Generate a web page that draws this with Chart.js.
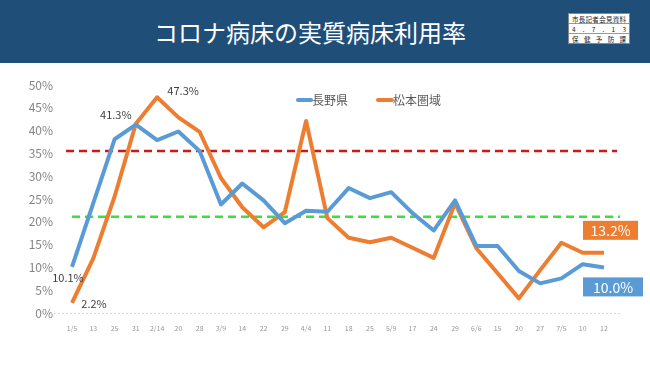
<!DOCTYPE html>
<html>
<head>
<meta charset="utf-8">
<script src="https://cdn.jsdelivr.net/npm/chart.js@4/dist/chart.umd.min.js"></script>
<style>
html,body{margin:0;padding:0;background:#fff;width:650px;height:365px;overflow:hidden;font-family:"Noto Sans CJK JP","Noto Sans",sans-serif;}
#header{position:absolute;left:0;top:0;width:650px;height:63px;background:#1F4E79;}
#title{position:absolute;left:0;top:0;width:620px;height:63px;line-height:63px;text-align:center;color:#fff;font-size:24px;}
#badge{position:absolute;left:568px;top:13px;width:62px;height:31px;background:#fff;border:1px solid #888;box-sizing:border-box;}
.row{height:10px;display:flex;justify-content:space-between;align-items:center;padding:0 3px;font-size:6.5px;line-height:10px;color:#222;border-bottom:1px solid #999;box-sizing:border-box;}
.row:last-child{border-bottom:none;}
#wrap{position:absolute;left:0;top:0;width:650px;height:365px;}
</style>
</head>
<body>
<div id="header"><div id="title">コロナ病床の実質病床利用率</div>
<div id="badge">
<div class="row"><span>市</span><span>長</span><span>記</span><span>者</span><span>会</span><span>見</span><span>資</span><span>料</span></div>
<div class="row"><span>4</span><span>.</span><span>7</span><span>.</span><span>1</span><span>3</span></div>
<div class="row"><span>保</span><span>健</span><span>予</span><span>防</span><span>課</span></div>
</div></div>
<div id="wrap"><canvas id="c" width="650" height="365"></canvas></div>
<script>
const categories = ["1/5","13","25","31","2/14","20","28","3/9","14","22","29","4/4","11","18","25","5/9","17","24","29","6/6","15","20","27","7/5","10","12"];
const naganoLabel = "長野県";
const matsumotoLabel = "松本圏域";
const nagano = [10.1,24.1,38.1,41.3,37.9,39.8,35.5,23.8,28.4,24.7,19.7,22.4,22.2,27.4,25.2,26.5,21.9,18.1,24.7,14.7,14.7,9.2,6.5,7.6,10.7,10.0];
const matsumoto = [2.2,12.0,25.5,41.5,47.3,42.9,39.7,29.6,23.2,18.8,22.1,42.1,20.8,16.5,15.5,16.5,14.3,12.1,24.1,14.2,8.7,3.2,9.4,15.4,13.2,13.2];
const redLine = 35.5;
const greenLine = 21.1;
const yTicks = [0,5,10,15,20,25,30,35,40,45,50];

const BLUE = "#5B9BD5", ORANGE = "#ED7D31";
const FONT = '"Noto Sans CJK JP","Noto Sans",sans-serif';

const overlay = {
  id: "overlay",
  beforeDatasetsDraw(chart) {
    const ctx = chart.ctx, y = chart.scales.y;
    const ca = chart.chartArea;
    ctx.save();
    ctx.strokeStyle = "#d9d9d9"; ctx.lineWidth = 1; ctx.setLineDash([2,2]);
    const by = Math.round(y.getPixelForValue(0)) + 0.5;
    ctx.beginPath(); ctx.moveTo(50, by); ctx.lineTo(620, by); ctx.stroke();
    ctx.lineWidth = 2.5; ctx.setLineDash([8,5]);
    ctx.strokeStyle = "#D01818";
    let py = y.getPixelForValue(redLine);
    ctx.beginPath(); ctx.moveTo(ca.left - 6, py); ctx.lineTo(ca.right + 13, py); ctx.stroke();
    ctx.strokeStyle = "#3BE03B";
    py = y.getPixelForValue(greenLine);
    ctx.beginPath(); ctx.moveTo(ca.left, py); ctx.lineTo(ca.right + 16, py); ctx.stroke();
    ctx.restore();
  },
  afterDatasetsDraw(chart) {
    const ctx = chart.ctx;
    const mb = chart.getDatasetMeta(0).data, mo = chart.getDatasetMeta(1).data;
    ctx.save();
    ctx.font = "11px " + FONT; ctx.fillStyle = "#404040";
    ctx.textAlign = "center"; ctx.textBaseline = "middle";
    const lab = (v) => v.toFixed(1) + "%";
    ctx.fillText(lab(nagano[3]), mb[3].x - 20, mb[3].y - 10);
    ctx.fillText(lab(matsumoto[4]), mo[4].x + 26, mo[4].y - 6);
    ctx.fillText(lab(nagano[0]), mb[0].x - 4, mb[0].y + 11);
    ctx.fillText(lab(matsumoto[0]), mo[0].x + 22, mo[0].y + 1);
    const n = categories.length - 1;
    ctx.font = "14px " + FONT;
    ctx.fillStyle = ORANGE; ctx.fillRect(583, mo[n].y - 32, 55, 19);
    ctx.fillStyle = "#fff"; ctx.fillText(lab(matsumoto[n]), 610.5, mo[n].y - 22);
    ctx.fillStyle = BLUE; ctx.fillRect(583, mb[n].y + 10, 60, 19);
    ctx.fillStyle = "#fff"; ctx.fillText(lab(nagano[n]), 613, mb[n].y + 20);
    ctx.font = "12px " + FONT; ctx.textAlign = "left"; ctx.fillStyle = "#595959";
    ctx.lineWidth = 4; ctx.lineCap = "round";
    ctx.strokeStyle = BLUE; ctx.beginPath(); ctx.moveTo(298,100); ctx.lineTo(311,100); ctx.stroke();
    ctx.fillText(naganoLabel, 312, 100);
    ctx.strokeStyle = ORANGE; ctx.beginPath(); ctx.moveTo(378,100); ctx.lineTo(392,100); ctx.stroke();
    ctx.fillText(matsumotoLabel, 393, 100);
    ctx.restore();
  }
};

new Chart(document.getElementById("c"), {
  type: "line",
  data: {
    labels: categories,
    datasets: [
      {label: naganoLabel, data: nagano, borderColor: BLUE, backgroundColor: BLUE, borderWidth: 4, pointRadius: 0, tension: 0, borderJoinStyle: "round"},
      {label: matsumotoLabel, data: matsumoto, borderColor: ORANGE, backgroundColor: ORANGE, borderWidth: 4, pointRadius: 0, tension: 0, borderJoinStyle: "round"}
    ]
  },
  options: {
    responsive: false, animation: false,
    layout: {padding: {left: 0, right: 46, top: 85, bottom: 0}},
    plugins: {legend: {display: false}, tooltip: {enabled: false}},
    scales: {
      x: {
        offset: false,
        grid: {display: false}, border: {display: false},
        ticks: {color: "#999999", font: {size: 7, family: FONT}, maxRotation: 0, autoSkip: false, padding: 3},
        afterFit(s) { s.height = 52; }
      },
      y: {
        min: 0, max: 50,
        grid: {display: false}, border: {display: false},
        afterBuildTicks(s) { s.ticks = yTicks.map(v => ({value: v})); },
        ticks: {color: "#858585", font: {size: 12, family: FONT}, padding: 11, callback: v => v + "%"},
        afterFit(s) { s.width = 72; }
      }
    }
  },
  plugins: [overlay]
});
</script>
</body>
</html>
